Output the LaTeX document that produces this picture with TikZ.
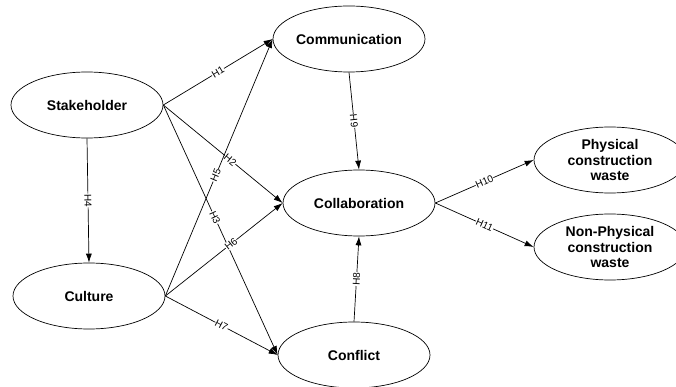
\documentclass[tikz,border=0pt]{standalone}
\usepackage{fontspec}
\setmainfont{Liberation Sans}
\usetikzlibrary{shapes.geometric,arrows.meta}

\begin{document}
\begin{tikzpicture}[x=1pt,y=-1pt,line width=0.7pt,
        construct/.style = {ellipse, draw, minimum width=152pt, minimum height=66pt,
            inner sep=0pt, align=center, font=\bfseries\fontsize{14}{15.5}\selectfont},
        hyp/.style = {-{Latex[length=9pt,width=6pt]}},
        lbl/.style = {sloped, fill=white, inner sep=0.4pt, font=\fontsize{10}{11}\selectfont}]

        \useasboundingbox (0,0) rectangle (676,387);

        % Antecedents
        \node[construct] (stake) at (87,105) {Stakeholder};
        \node[construct] (cult) at (89,296) {Culture};

        % Mediators
        \node[construct] (comm) at (349,39) {Communication};
        \node[construct] (collab) at (359,203) {Collaboration};
        \node[construct] (confl) at (354,355) {Conflict};

        % Outcomes
        \node[construct] (phys) at (610,160) {Physical\\construction\\waste};
        \node[construct] (nonphys) at (610,247) {Non-Physical\\construction\\waste};

        % Hypotheses
        \draw[hyp] (stake.east) -- node[lbl] {H1} (comm.west);
        \draw[hyp] (stake.east) -- node[lbl,pos=0.56] {H2} (collab.west);
        \draw[hyp] (stake.east) -- node[lbl,pos=0.45] {H3} (confl.west);
        \draw[hyp] (stake.south) -- node[lbl] {H4} (cult.north);
        \draw[hyp] (cult.east) -- node[lbl,pos=0.47] {H5} (comm.west);
        \draw[hyp] (cult.east) -- node[lbl,pos=0.56] {H6} (collab.west);
        \draw[hyp] (cult.east) -- node[lbl] {H7} (confl.west);
        \draw[hyp] (confl.north) -- node[lbl] {H8} (collab.south);
        \draw[hyp] (comm.south) -- node[lbl] {H9} (collab.north);
        \draw[hyp] (collab.east) -- node[lbl] {H10} (phys.west);
        \draw[hyp] (collab.east) -- node[lbl] {H11} (nonphys.west);

\end{tikzpicture}
\end{document}
